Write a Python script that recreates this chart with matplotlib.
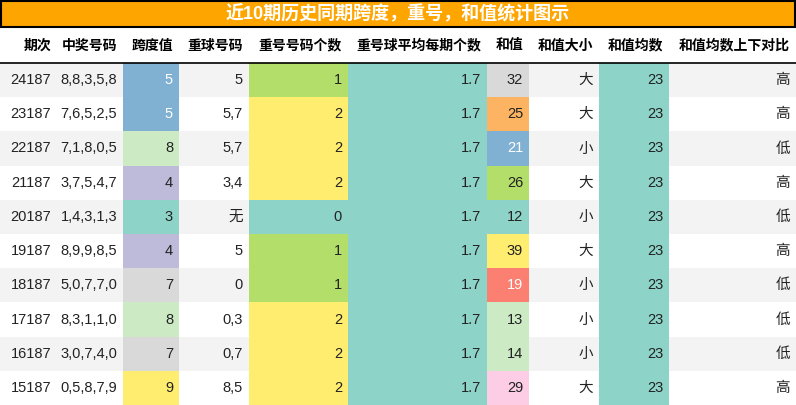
import matplotlib
matplotlib.use("Agg")
from matplotlib import pyplot as plt
from matplotlib.patches import Rectangle

plt.rcParams['font.family'] = ['Liberation Sans', 'Noto Sans CJK SC', 'DejaVu Sans']

title = "近10期历史同期跨度，重号，和值统计图示"
headers = ["期次", "中奖号码", "跨度值", "重球号码", "重号号码个数", "重号球平均每期个数",
           "和值", "和值大小", "和值均数", "和值均数上下对比"]
issues = ["24187", "23187", "22187", "21187", "20187", "19187", "18187", "17187", "16187", "15187"]
numbers = ["8,8,3,5,8", "7,6,5,2,5", "7,1,8,0,5", "3,7,5,4,7", "1,4,3,1,3",
           "8,9,9,8,5", "5,0,7,7,0", "8,3,1,1,0", "3,0,7,4,0", "0,5,8,7,9"]
spans = [5, 5, 8, 4, 3, 4, 7, 8, 7, 9]
repeat_balls = ["5", "5,7", "5,7", "3,4", "无", "5", "0", "0,3", "0,7", "8,5"]
repeat_counts = [1, 2, 2, 2, 0, 1, 1, 2, 2, 2]
avg_repeat = ["1.7"] * 10
sums = [32, 25, 21, 26, 12, 39, 19, 13, 14, 29]
sum_size = ["大", "大", "小", "大", "小", "大", "小", "小", "小", "大"]
sum_mean = ["23"] * 10
compare = ["高", "高", "低", "高", "低", "高", "低", "低", "低", "高"]

span_colors = {5: "#80b1d3", 8: "#ccebc5", 4: "#bebada", 3: "#8dd3c7", 7: "#d9d9d9", 9: "#ffed6f"}
count_colors = {1: "#b3de69", 2: "#ffed6f", 0: "#8dd3c7"}
sum_colors = {32: "#d9d9d9", 25: "#fdb462", 21: "#80b1d3", 26: "#b3de69", 12: "#8dd3c7",
              39: "#ffed6f", 19: "#fb8072", 13: "#ccebc5", 14: "#ccebc5", 29: "#fccde5"}
white_text = {"#80b1d3", "#fb8072"}
teal = "#8dd3c7"

W, H = 796, 405
edges = [0, 57, 123, 179, 249, 348, 487, 529, 599, 669, 796]
title_h, head_h = 28, 35
row_h = (H - title_h - head_h) / 10

fig = plt.figure(figsize=(W / 100, H / 100), dpi=100)
ax = fig.add_axes([0, 0, 1, 1])
ax.set_xlim(0, W)
ax.set_ylim(H, 0)
ax.axis('off')

ax.add_patch(Rectangle((1, 1), W - 2, title_h - 2, facecolor="#ffa500", edgecolor="black", lw=1.5))
ax.text(W / 2, title_h / 2, title, color="white", fontsize=13, fontweight="bold", ha="center", va="center")

for i, h in enumerate(headers):
    ax.text(edges[i + 1] - 6, title_h + head_h / 2, h, fontsize=10, fontweight="bold", ha="right", va="center")
ax.plot([0, W], [title_h + head_h, title_h + head_h], color="black", lw=1.2)

for r in range(10):
    y0 = title_h + head_h + r * row_h
    base = "#f3f3f3" if r % 2 == 0 else "white"
    cells = [issues[r], numbers[r], str(spans[r]), repeat_balls[r], str(repeat_counts[r]),
             avg_repeat[r], str(sums[r]), sum_size[r], sum_mean[r], compare[r]]
    colors = [base, base, span_colors[spans[r]], base, count_colors[repeat_counts[r]],
              teal, sum_colors[sums[r]], base, teal, base]
    for c in range(10):
        ax.add_patch(Rectangle((edges[c], y0), edges[c + 1] - edges[c], row_h, facecolor=colors[c], lw=0))
        tc = "white" if colors[c] in white_text else "#222222"
        ax.text(edges[c + 1] - 6, y0 + row_h / 2, cells[c], fontsize=10.5, color=tc, ha="right", va="center")

fig.savefig("out.png", dpi=100)
